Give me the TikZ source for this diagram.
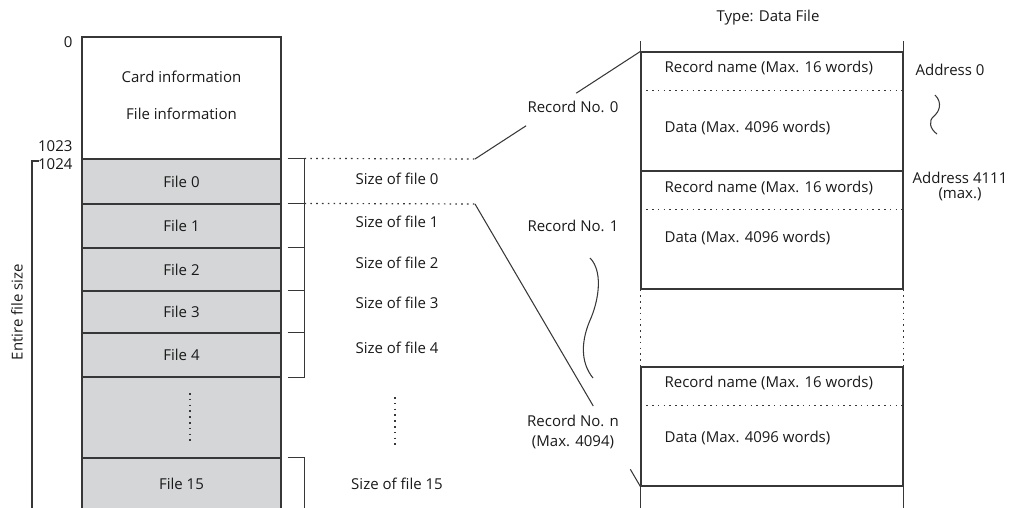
\documentclass[tikz,border=0pt]{standalone}
\usepackage{fontspec}
\setmainfont{Open Sans}
\usetikzlibrary{calc}
\definecolor{ln}{RGB}{55,55,55}
\definecolor{fg}{RGB}{213,214,216}
\definecolor{tx}{RGB}{25,25,25}
\begin{document}
\begin{tikzpicture}[x=1pt,y=-1pt,line width=1.15pt,
  every node/.style={font=\fontsize{15}{20}\selectfont,text=tx},
  membox/.style={draw=ln,inner sep=0pt,minimum width=199pt},
  filebox/.style={membox,fill=fg},
  recbox/.style={draw=ln,inner sep=0pt,minimum width=262pt},
  dotline/.style={draw=ln,line width=1.2pt,dash pattern=on 1.6pt off 4.2pt},
  conn/.style={draw=ln,line width=1.05pt},
  lab/.style={inner sep=0pt}]
\useasboundingbox (0,0) rectangle (1012,508);
\clip (0,0) rectangle (1012,508);

% left memory column
\node[membox,minimum height=122pt] (card) at (181.5,98) {};
\node[lab] (cardt) at (181.5,77) {Card information};
\node[lab] (filet) at (181.5,114) {File information};
\node[filebox,minimum height=45pt] (f0) at (181.5,181.5) {File 0};
\node[filebox,minimum height=44pt] (f1) at (181.5,226) {File 1};
\node[filebox,minimum height=43pt] (f2) at (181.5,269.5) {File 2};
\node[filebox,minimum height=42pt] (f3) at (181.5,312) {File 3};
\node[filebox,minimum height=44pt] (f4) at (181.5,355) {File 4};
\node[filebox,minimum height=81pt] (fd) at (181.5,417.5) {};
\node[filebox,minimum height=52pt] (f15) at (181.5,484) {File 15};
\draw[dotline] (190,393) -- (190,443);

% address labels
\node[lab,anchor=east] (a0) at (73,42) {0};
\node[lab,anchor=east] (a1023) at (73,146) {1023};
\node[lab,anchor=east] (a1024) at (73,164) {1024};
\coordinate (tot) at (32,510);
\draw[conn] (39,161) -- (32,161) -- (tot);
\node[lab,rotate=90] (entire) at (17,312) {Entire file size};

% size brackets
\draw[conn] ([xshift=6pt]f0.north east) -| ([xshift=23pt]f4.south east) -- ([xshift=6pt]f4.south east);
\foreach \f in {f1,f2,f3,f4}{\draw[conn] ([xshift=6pt]\f.north east) -- ([xshift=23pt]\f.north east);}
\draw[conn] ([xshift=6pt]f15.north east) -| ([xshift=23pt]f15.south east);
\node[lab] (s0) at (397,179) {Size of file 0};
\node[lab] (s1) at (397,222) {Size of file 1};
\node[lab] (s2) at (397,263) {Size of file 2};
\node[lab] (s3) at (397,303) {Size of file 3};
\node[lab] (s4) at (397,348) {Size of file 4};
\node[lab] (s15) at (397,484) {Size of file 15};
\draw[dotline] (395,397) -- (395,447);

% record column
\node[lab] (type) at (768,18) {Type: Data File};
\node[recbox,minimum height=119pt] (r0) at (772,111.5) {};
\node[recbox,minimum height=118pt] (r1) at (772,230) {};
\node[recbox,minimum height=119pt] (rn) at (772,426.5) {};
\draw[conn] (r0.north west) -- ++(0,-10);
\draw[conn] (r0.north east) -- ++(0,-10);
\draw[dotline] (r1.south west) -- (rn.north west);
\draw[dotline] (r1.south east) -- (rn.north east);
\draw[conn] (rn.south west) -- ++(0,26);
\draw[conn] (rn.south east) -- ++(0,26);
\foreach \r in {r0,r1,rn}{\draw[dotline] ([yshift=-39pt]\r.north west) -- ([yshift=-39pt]\r.north east);}
\node[lab,anchor=west] (n0) at (664,68) {Record name (Max. 16 words)};
\node[lab,anchor=west] (d0) at (664,128) {Data (Max. 4096 words)};
\node[lab,anchor=west] (n1) at (664,188) {Record name (Max. 16 words)};
\node[lab,anchor=west] (d1) at (664,238) {Data (Max. 4096 words)};
\node[lab,anchor=west] (nn) at (664,383) {Record name (Max. 16 words)};
\node[lab,anchor=west] (dn) at (664,438) {Data (Max. 4096 words)};

% addresses on right
\node[lab] (ad0) at (950,70) {Address 0};
\node[lab] (ad1) at (960,178) {Address 4111};
\node[lab] (ad2) at (960,194) {(max.)};
\draw[conn] (935,95) .. controls (943,103) and (939,112) .. (934,116) .. controls (928,121) and (930,129) .. (937,134);

% connectors
\coordinate (k0) at (475,159);
\coordinate (k1) at (475,204);
\draw[dotline] ([xshift=23pt]f0.north east) -- (k0);
\draw[dotline] ([xshift=23pt]f1.north east) -- (k1);
\draw[conn] (k0) -- ($(k0)!0.309!(r0.north west)$);
\draw[conn] ($(k0)!0.612!(r0.north west)$) -- (r0.north west);
\draw[conn] (k1) -- ($(k1)!0.715!(rn.south west)$);
\draw[conn] ($(k1)!0.939!(rn.south west)$) -- (rn.south west);
\node[lab] (rec0) at (573,107) {Record No. 0};
\node[lab] (rec1) at (573,226) {Record No. 1};
\node[lab,align=center] (recn) at (573,432) {Record No. n\\(Max. 4094)};
\draw[conn] (590,258) .. controls (602,270) and (600,296) .. (591,318) .. controls (581,340) and (580,362) .. (593,378);
\end{tikzpicture}
\end{document}
